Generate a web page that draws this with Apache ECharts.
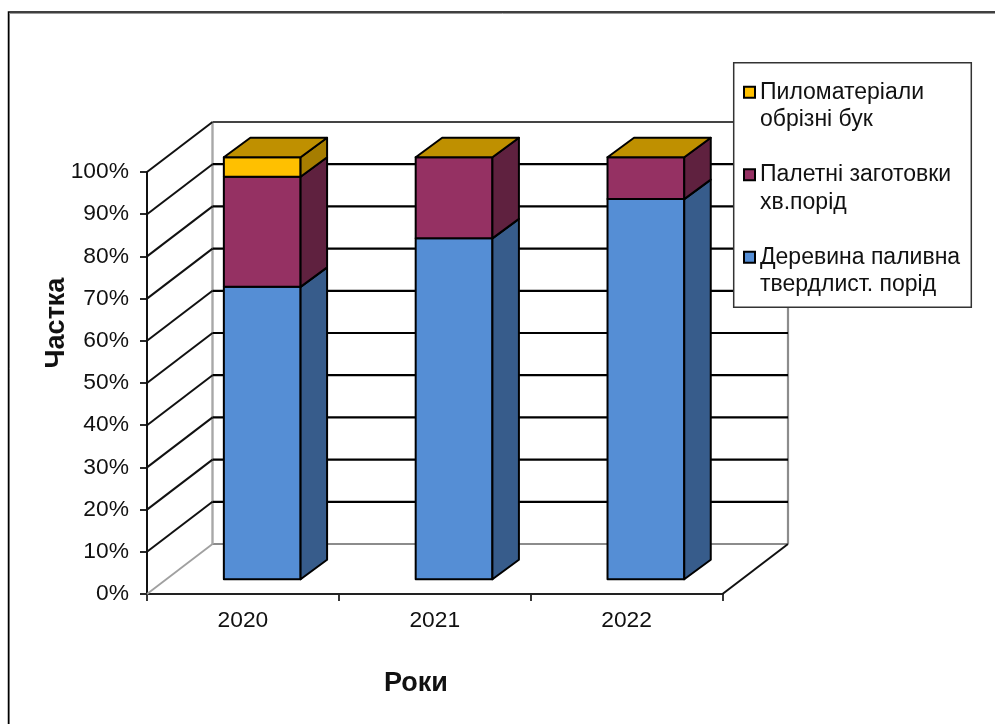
<!DOCTYPE html>
<html>
<head>
<meta charset="utf-8">
<style>html,body{margin:0;padding:0;background:#fff}#chart{width:995px;height:724px}</style>
<script src="https://cdn.jsdelivr.net/npm/echarts@6/dist/echarts.min.js"></script>
</head>
<body>
<div id="chart"></div>
<script>
const years = ['2020', '2021', '2022'];
const fuelwood = [69.3, 80.8, 90.1];
const pallets = [26.1, 19.2, 9.9];
const beech = [4.6, 0, 0];
const percentTicks = [0, 10, 20, 30, 40, 50, 60, 70, 80, 90, 100];

const nameBeech = 'Пиломатеріали\nобрізні бук';
const namePallets = 'Палетні заготовки\nхв.порід';
const nameFuelwood = 'Деревина паливна\nтвердлист. порід';
const yTitle = 'Частка';
const xTitle = 'Роки';

// Oblique projection: the depth of the box, the gap in front of the bars and the bars' own depth.
const BOX_DEPTH = [65.5, -50];
const BAR_SHIFT = [19.3, -14.7];
const BAR_DEPTH = [26.5, -19.5];
const BAR_WIDTH_SHARE = 0.4;
const FONT = '"Liberation Sans", Arial, sans-serif';
const EDGE = { stroke: '#000', lineWidth: 2, lineJoin: 'round' };

function polygon(points, fill) {
  return { type: 'polygon', shape: { points }, style: Object.assign({ fill }, EDGE) };
}

function wallItem(params, api) {
  const value = api.value(0);
  const rect = params.coordSys;
  const y = api.coord([0, value])[1];
  const x0 = rect.x, x1 = rect.x + rect.width;
  const bx0 = x0 + BOX_DEPTH[0], bx1 = x1 + BOX_DEPTH[0], by = y + BOX_DEPTH[1];
  const isFloor = value === 0;
  const lineStyle = (stroke, lineWidth) => ({ stroke, lineWidth, fill: null });
  const children = [
    { type: 'line', shape: { x1: x0, y1: y, x2: bx0, y2: by },
      style: lineStyle(isFloor ? '#a0a0a0' : '#111', isFloor ? 1.8 : 2) },
    { type: 'line', shape: { x1: bx0, y1: by, x2: bx1, y2: by },
      style: lineStyle(isFloor ? '#8c8c8c' : (value === 100 ? '#444' : '#000'), 2.2) }
  ];
  if (isFloor) {
    const top = api.coord([0, percentTicks[percentTicks.length - 1]])[1] + BOX_DEPTH[1];
    children.push(
      { type: 'line', shape: { x1: bx0, y1: by, x2: bx0, y2: top }, style: lineStyle('#a8a8a8', 2.4) },
      { type: 'line', shape: { x1: bx1, y1: by, x2: bx1, y2: top }, style: lineStyle('#8c8c8c', 2.2) },
      { type: 'line', shape: { x1: x1, y1: y, x2: bx1, y2: by }, style: lineStyle('#111', 2) }
    );
  }
  return { type: 'group', children };
}

function barRenderer(front, side, withTop) {
  return function (params, api) {
    const cat = api.value(0);
    const low = api.coord([cat, api.value(1)]);
    const high = api.coord([cat, api.value(2)]);
    const half = api.size([1, 0])[0] * BAR_WIDTH_SHARE / 2;
    const l = low[0] + BAR_SHIFT[0] - half, r = low[0] + BAR_SHIFT[0] + half;
    const b = low[1] + BAR_SHIFT[1], t = high[1] + BAR_SHIFT[1];
    const dx = BAR_DEPTH[0], dy = BAR_DEPTH[1];
    const children = [];
    if (b - t > 0.01) {
      children.push(polygon([[l, t], [r, t], [r, b], [l, b]], front));
      children.push(polygon([[r, t], [r + dx, t + dy], [r + dx, b + dy], [r, b]], side));
    }
    if (withTop) {
      children.push(polygon([[l, t], [l + dx, t + dy], [r + dx, t + dy], [r, t]], '#bf9000'));
    }
    return { type: 'group', children };
  };
}

function segments(values, bases) {
  return values.map((v, i) => [i, bases[i], bases[i] + v]);
}
const zeros = years.map(() => 0);
const fuelwoodTop = fuelwood.slice();
const palletsTop = fuelwood.map((v, i) => v + pallets[i]);

function swatch(color) {
  return { color, borderColor: '#000', borderWidth: 2 };
}

const chart = echarts.init(document.getElementById('chart'), null, { renderer: 'canvas' });
chart.setOption({
  animation: false,
  backgroundColor: '#fff',
  textStyle: { fontFamily: FONT },
  grid: { left: 147, top: 172, width: 575.5, height: 422, containLabel: false },
  xAxis: {
    type: 'category',
    data: years,
    axisLine: { lineStyle: { color: '#222', width: 2 } },
    axisTick: { show: true, alignWithLabel: false, length: 7, lineStyle: { color: '#222', width: 1.8 } },
    axisLabel: { fontSize: 22.8, color: '#111', margin: 15, fontFamily: FONT },
    splitLine: { show: false }
  },
  yAxis: {
    type: 'value',
    min: 0,
    max: 100,
    interval: 10,
    axisLine: { show: true, lineStyle: { color: '#111', width: 2 } },
    axisTick: { show: true, length: 7, lineStyle: { color: '#111', width: 1.8 } },
    axisLabel: { formatter: '{value}%', fontSize: 22.8, color: '#111', margin: 18, fontFamily: FONT },
    splitLine: { show: false }
  },
  legend: {
    z: 7,
    data: [nameBeech, namePallets, nameFuelwood],
    orient: 'vertical',
    left: 743,
    top: 51,
    itemWidth: 11,
    itemHeight: 11,
    itemGap: 0,
    padding: 0,
    icon: 'rect',
    selectedMode: false,
    // A blank first line puts the swatch level with the first line of each two-line entry.
    formatter: name => '\n' + name,
    textStyle: {
      fontSize: 23,
      lineHeight: 27.5,
      color: '#111',
      fontFamily: FONT
    }
  },
  graphic: [
    { type: 'polyline', silent: true, z: -10,
      shape: { points: [[9.5, 724], [9.5, 13.5], [995, 13.5]] },
      style: { fill: null, stroke: '#9a9a9a', lineWidth: 1 } },
    { type: 'polyline', silent: true, z: -9,
      shape: { points: [[8.5, 724], [8.5, 12], [995, 12]] },
      style: { fill: null, stroke: '#000', lineWidth: 1.5 } },
    { type: 'rect', silent: true, z: 6,
      shape: { x: 733.7, y: 62.7, width: 237.6, height: 244.6 },
      style: { fill: '#fff', stroke: '#333', lineWidth: 1.5 } },
    { type: 'text', silent: true, z: 6, x: 57, y: 323, rotation: Math.PI / 2,
      style: { text: yTitle, fill: '#111', font: 'bold 27px ' + FONT, align: 'center', verticalAlign: 'middle' } },
    { type: 'text', silent: true, z: 6, x: 416, y: 684,
      style: { text: xTitle, fill: '#111', font: 'bold 27px ' + FONT, align: 'center', verticalAlign: 'middle' } }
  ],
  series: [
    {
      type: 'custom',
      name: 'walls',
      z: 1,
      silent: true,
      coordinateSystem: 'cartesian2d',
      data: percentTicks.map(v => [v]),
      encode: { y: 0 },
      renderItem: wallItem
    },
    {
      type: 'custom',
      name: nameFuelwood,
      z: 2,
      silent: true,
      coordinateSystem: 'cartesian2d',
      itemStyle: swatch('#558ed5'),
      data: segments(fuelwood, zeros),
      encode: { x: 0, y: [1, 2] },
      renderItem: barRenderer('#558ed5', '#375c8b', false)
    },
    {
      type: 'custom',
      name: namePallets,
      z: 3,
      silent: true,
      coordinateSystem: 'cartesian2d',
      itemStyle: swatch('#953163'),
      data: segments(pallets, fuelwoodTop),
      encode: { x: 0, y: [1, 2] },
      renderItem: barRenderer('#953163', '#5f213f', false)
    },
    {
      type: 'custom',
      name: nameBeech,
      z: 4,
      silent: true,
      coordinateSystem: 'cartesian2d',
      itemStyle: swatch('#ffc000'),
      data: segments(beech, palletsTop),
      encode: { x: 0, y: [1, 2] },
      renderItem: barRenderer('#ffc000', '#a67d00', true)
    }
  ]
});
</script>
</body>
</html>
